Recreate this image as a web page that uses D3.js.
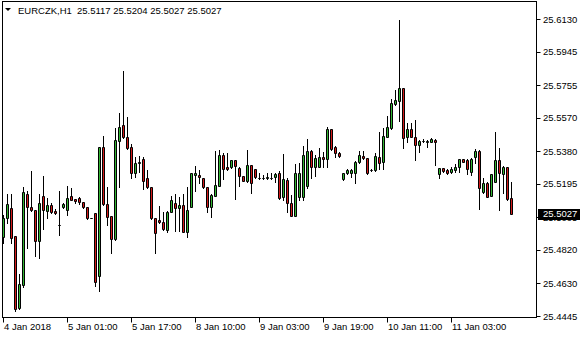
<!DOCTYPE html>
<html>
<head>
<meta charset="utf-8">
<script src="https://cdn.jsdelivr.net/npm/d3@7"></script>
<style>
  body { margin: 0; background: #fff; }
  svg text { font-family: "Liberation Sans", Arial, sans-serif; font-size: 9.5px; }
</style>
</head>
<body>
<div class="container"></div>
<script>
const w = 580;
const h = 340;

const symbol = 'EURCZK,H1';
const lastBar = ['25.5117', '25.5204', '25.5027', '25.5027'];

// hourly bars, oldest first
const open = [
  25.4895, 25.5000, 25.5057, 25.4899, 25.4489, 25.4621, 25.5138, 25.5062, 25.5047, 25.4872,
  25.5125, 25.5043, 25.5074, 25.5041, 25.4960, 25.5062, 25.5047, 25.5125, 25.5108, 25.5113,
  25.5091, 25.5062, 25.5000, 25.5028, 25.4674, 25.5403, 25.5079, 25.5013, 25.4880, 25.5437,
  25.5530, 25.5460, 25.5403, 25.5255, 25.5312, 25.5337, 25.5227, 25.5176, 25.5000, 25.4988,
  25.4977, 25.4933, 25.5037, 25.5085, 25.5057, 25.5075, 25.4924, 25.5066, 25.5247, 25.5246,
  25.5230, 25.5176, 25.5066, 25.5126, 25.5185, 25.5359, 25.5291, 25.5289, 25.5331, 25.5287,
  25.5240, 25.5213, 25.5302, 25.5280, 25.5230, 25.5230, 25.5229, 25.5230, 25.5233, 25.5255,
  25.5119, 25.5217, 25.5085, 25.5013, 25.5122, 25.5122, 25.5185, 25.5382, 25.5289, 25.5293,
  25.5350, 25.5335, 25.5505, 25.5403, 25.5369, 25.5221, 25.5255, 25.5259, 25.5259, 25.5318,
  25.5354, 25.5340, 25.5274, 25.5274, 25.5350, 25.5321, 25.5463, 25.5511, 25.5649, 25.5668,
  25.5738, 25.5463, 25.5505, 25.5460, 25.5416, 25.5440, 25.5435, 25.5435, 25.5444, 25.5250,
  25.5284, 25.5274, 25.5264, 25.5274, 25.5289, 25.5335, 25.5331, 25.5264, 25.5346, 25.5382,
  25.5151, 25.5202, 25.5126, 25.5208, 25.5331, 25.5250, 25.5289, 25.5117
];
const high = [
  25.5018, 25.5138, 25.5138, 25.4899, 25.4683, 25.5179, 25.5155, 25.5270, 25.5047, 25.5138,
  25.5240, 25.5113, 25.5085, 25.5051, 25.5155, 25.5085, 25.5183, 25.5170, 25.5108, 25.5119,
  25.5091, 25.5062, 25.5001, 25.5028, 25.5406, 25.5467, 25.5179, 25.5013, 25.5511, 25.5598,
  25.5836, 25.5577, 25.5422, 25.5350, 25.5354, 25.5350, 25.5274, 25.5176, 25.5000, 25.5070,
  25.5037, 25.5041, 25.5126, 25.5138, 25.5122, 25.5136, 25.5179, 25.5257, 25.5297, 25.5274,
  25.5230, 25.5176, 25.5136, 25.5384, 25.5388, 25.5369, 25.5369, 25.5333, 25.5333, 25.5293,
  25.5240, 25.5388, 25.5304, 25.5282, 25.5255, 25.5246, 25.5259, 25.5255, 25.5255, 25.5268,
  25.5365, 25.5227, 25.5132, 25.5308, 25.5316, 25.5410, 25.5448, 25.5388, 25.5359, 25.5397,
  25.5378, 25.5520, 25.5507, 25.5410, 25.5378, 25.5257, 25.5278, 25.5278, 25.5325, 25.5382,
  25.5382, 25.5342, 25.5278, 25.5369, 25.5492, 25.5511, 25.5581, 25.5676, 25.5728, 25.6126,
  25.5740, 25.5539, 25.5539, 25.5558, 25.5442, 25.5448, 25.5444, 25.5454, 25.5448, 25.5286,
  25.5286, 25.5278, 25.5289, 25.5306, 25.5337, 25.5337, 25.5335, 25.5340, 25.5392, 25.5388,
  25.5227, 25.5204, 25.5252, 25.5492, 25.5397, 25.5297, 25.5291, 25.5204
];
const low = [
  25.4859, 25.4973, 25.4859, 25.4475, 25.4487, 25.4611, 25.4833, 25.5043, 25.4787, 25.4776,
  25.4937, 25.5003, 25.5028, 25.5024, 25.4905, 25.5057, 25.5018, 25.5102, 25.5088, 25.5083,
  25.5060, 25.4998, 25.4999, 25.4617, 25.4588, 25.5077, 25.4962, 25.4801, 25.4878, 25.5179,
  25.5458, 25.5395, 25.5227, 25.5233, 25.5264, 25.5164, 25.5170, 25.4998, 25.4804, 25.4971,
  25.4933, 25.4924, 25.5034, 25.4929, 25.4929, 25.4922, 25.4892, 25.5064, 25.5157, 25.5202,
  25.5170, 25.5037, 25.5005, 25.5124, 25.5183, 25.5221, 25.5274, 25.5287, 25.5108, 25.5183,
  25.5211, 25.5208, 25.5145, 25.5227, 25.5221, 25.5221, 25.5223, 25.5221, 25.5208, 25.5111,
  25.5104, 25.5037, 25.5011, 25.5011, 25.5104, 25.5104, 25.5170, 25.5227, 25.5240, 25.5289,
  25.5289, 25.5293, 25.5390, 25.5350, 25.5346, 25.5217, 25.5251, 25.5236, 25.5202, 25.5316,
  25.5338, 25.5253, 25.5270, 25.5270, 25.5278, 25.5278, 25.5461, 25.5505, 25.5643, 25.5554,
  25.5397, 25.5435, 25.5461, 25.5331, 25.5378, 25.5435, 25.5406, 25.5431, 25.5302, 25.5227,
  25.5264, 25.5250, 25.5255, 25.5261, 25.5264, 25.5320, 25.5251, 25.5246, 25.5316, 25.5051,
  25.5145, 25.5121, 25.5124, 25.5206, 25.5047, 25.5145, 25.5106, 25.5027
];
const close = [
  25.5000, 25.5079, 25.4886, 25.4485, 25.4627, 25.5149, 25.5066, 25.5047, 25.4872, 25.5085,
  25.5047, 25.5075, 25.5037, 25.5028, 25.4960, 25.5081, 25.5113, 25.5105, 25.5098, 25.5091,
  25.5062, 25.5000, 25.5000, 25.4636, 25.5403, 25.5079, 25.5009, 25.4880, 25.5443, 25.5517,
  25.5460, 25.5397, 25.5255, 25.5312, 25.5320, 25.5213, 25.5176, 25.5000, 25.4915, 25.4977,
  25.4937, 25.5037, 25.5104, 25.5057, 25.5075, 25.4924, 25.5047, 25.5255, 25.5255, 25.5236,
  25.5176, 25.5066, 25.5132, 25.5189, 25.5359, 25.5278, 25.5278, 25.5331, 25.5297, 25.5240,
  25.5213, 25.5302, 25.5198, 25.5233, 25.5230, 25.5230, 25.5236, 25.5230, 25.5251, 25.5113,
  25.5221, 25.5085, 25.5013, 25.5255, 25.5255, 25.5359, 25.5382, 25.5289, 25.5340, 25.5346,
  25.5335, 25.5505, 25.5392, 25.5369, 25.5355, 25.5255, 25.5274, 25.5274, 25.5321, 25.5359,
  25.5340, 25.5255, 25.5274, 25.5354, 25.5316, 25.5467, 25.5520, 25.5653, 25.5672, 25.5738,
  25.5458, 25.5505, 25.5463, 25.5416, 25.5440, 25.5440, 25.5440, 25.5448, 25.5431, 25.5284,
  25.5270, 25.5259, 25.5280, 25.5293, 25.5335, 25.5321, 25.5278, 25.5335, 25.5384, 25.5170,
  25.5202, 25.5122, 25.5250, 25.5331, 25.5255, 25.5289, 25.5108, 25.5027
];

const priceTicks = [25.6130, 25.5945, 25.5755, 25.5570, 25.5380, 25.5195, 25.5005, 25.4820, 25.4630, 25.4445];
const timeTickBars = [0, 16, 32, 48, 64, 80, 96, 112];
const timeTickLabels = ['4 Jan 2018', '5 Jan 01:00', '5 Jan 17:00', '8 Jan 10:00',
                        '9 Jan 03:00', '9 Jan 19:00', '10 Jan 11:00', '11 Jan 03:00'];

const bars = open.map((o, i) => ({ i, o, h: high[i], l: low[i], c: close[i] }));

const frame = { left: 2.5, top: 1.5, right: 536.5, bottom: 317.5 };
const upColor = '#32b432';
const downColor = '#d21a1a';

const svg = d3.select('.container').append('svg')
    .attr('width', w)
    .attr('height', h);

svg.append('rect')
    .attr('width', w)
    .attr('height', h)
    .attr('fill', '#fff');

const x = d3.scaleLinear()
    .domain([0, bars.length - 1])
    .range([3, 511]);

const y = d3.scaleLinear()
    .domain([25.4445, 25.6130])
    .range([316, 19.3]);

const px = v => Math.round(x(v));
const py = v => Math.round(y(v)) + 0.5;

// frame
svg.append('rect')
    .attr('x', frame.left)
    .attr('y', frame.top)
    .attr('width', frame.right - frame.left)
    .attr('height', frame.bottom - frame.top)
    .attr('fill', 'none')
    .attr('stroke', '#000');

// candles
const candles = svg.append('g').attr('class', 'candles');

candles.selectAll('line')
    .data(bars)
    .enter().append('line')
      .attr('x1', d => px(d.i) + 0.5)
      .attr('x2', d => px(d.i) + 0.5)
      .attr('y1', d => Math.round(y(d.h)))
      .attr('y2', d => Math.round(y(d.l)) + 1)
      .attr('stroke', '#000')
      .attr('shape-rendering', 'crispEdges');

candles.selectAll('path')
    .data(bars)
    .enter().append('path')
      .attr('d', d => {
        const c = px(d.i);
        const top = py(Math.max(d.o, d.c));
        const bot = py(Math.min(d.o, d.c));
        return `M${c - 0.5},${top}H${c + 1.5}V${bot}H${c - 0.5}Z`;
      })
      .attr('fill', d => d.c >= d.o ? upColor : downColor)
      .attr('stroke', '#000')
      .attr('stroke-width', 1);

// price axis
const yAxis = svg.append('g').attr('class', 'y-axis');

yAxis.selectAll('line')
    .data(priceTicks)
    .enter().append('line')
      .attr('x1', frame.right)
      .attr('x2', frame.right + 4)
      .attr('y1', d => py(d))
      .attr('y2', d => py(d))
      .attr('stroke', '#000');

yAxis.selectAll('text')
    .data(priceTicks)
    .enter().append('text')
      .attr('x', 543)
      .attr('y', d => y(d) + 3.5)
      .attr('fill', '#000')
      .text(d => d.toFixed(4));

// current price marker
const last = close[close.length - 1];
svg.append('rect')
    .attr('x', 538)
    .attr('y', Math.round(y(last)) - 5)
    .attr('width', 42)
    .attr('height', 11)
    .attr('fill', '#000');

svg.append('text')
    .attr('x', 543)
    .attr('y', y(last) + 3.5)
    .attr('fill', '#fff')
    .text(last.toFixed(4));

// time axis
const xAxis = svg.append('g').attr('class', 'x-axis');

xAxis.selectAll('line')
    .data(timeTickBars)
    .enter().append('line')
      .attr('x1', d => px(d) + 0.5)
      .attr('x2', d => px(d) + 0.5)
      .attr('y1', frame.bottom)
      .attr('y2', frame.bottom + 5)
      .attr('stroke', '#000');

xAxis.selectAll('text')
    .data(timeTickBars)
    .enter().append('text')
      .attr('x', d => px(d) + 1)
      .attr('y', 330)
      .attr('fill', '#000')
      .text((d, i) => timeTickLabels[i]);

// header
svg.append('path')
    .attr('d', 'M5,8H11L8,11Z')
    .attr('fill', '#000');

svg.append('text')
    .attr('x', 18)
    .attr('y', 14)
    .attr('fill', '#000')
    .text(symbol);

svg.append('text')
    .attr('x', 77)
    .attr('y', 14)
    .attr('fill', '#000')
    .text(lastBar.join(' '));
</script>
</body>
</html>
